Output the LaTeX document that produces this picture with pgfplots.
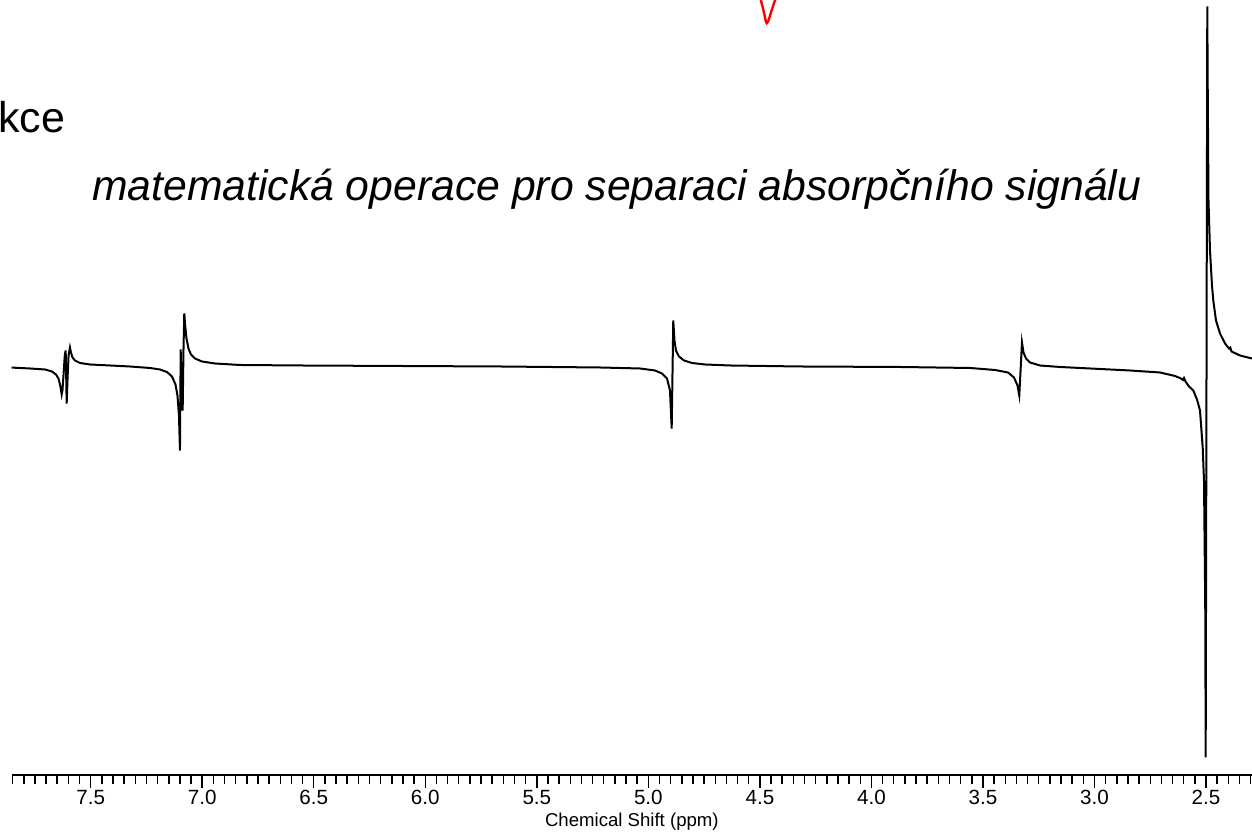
\documentclass[border=0pt]{standalone}
\usepackage{fontspec}
\setmainfont{Liberation Sans}
\usepackage{pgfplots}
\pgfplotsset{compat=1.18}
\begin{document}
\begin{tikzpicture}
\useasboundingbox (0,0) rectangle (626pt,419pt);
\node[anchor=base west,inner sep=0pt,font=\fontsize{21.5}{24}\selectfont] at (-1pt,352.5pt) {kce};
\node[anchor=base west,inner sep=0pt,font=\fontsize{21.35}{25}\selectfont\itshape] at (45.85pt,318.65pt) {matematická operace pro separaci absorpčního signálu};
\begin{axis}[
  at={(5.85pt,31.25pt)}, anchor=south west,
  x=111.535pt, y=0.5pt,
  xmin=2.294, xmax=7.8541, ymin=0, ymax=775,
  x dir=reverse,
  axis x line*=bottom, axis y line=none,
  axis line style={line width=1pt,black},
  xtick={2.5,3.0,3.5,4.0,4.5,5.0,5.5,6.0,6.5,7.0,7.5},
  xticklabels={2.5,3.0,3.5,4.0,4.5,5.0,5.5,6.0,6.5,7.0,7.5},
  minor xtick={2.30,2.35,2.40,2.45,2.55,2.60,2.65,2.70,2.75,2.80,2.85,2.90,2.95,3.05,3.10,3.15,3.20,3.25,3.30,3.35,3.40,3.45,3.55,3.60,3.65,3.70,3.75,3.80,3.85,3.90,3.95,4.05,4.10,4.15,4.20,4.25,4.30,4.35,4.40,4.45,4.55,4.60,4.65,4.70,4.75,4.80,4.85,4.90,4.95,5.05,5.10,5.15,5.20,5.25,5.30,5.35,5.40,5.45,5.55,5.60,5.65,5.70,5.75,5.80,5.85,5.90,5.95,6.05,6.10,6.15,6.20,6.25,6.30,6.35,6.40,6.45,6.55,6.60,6.65,6.70,6.75,6.80,6.85,6.90,6.95,7.05,7.10,7.15,7.20,7.25,7.30,7.35,7.40,7.45,7.55,7.60,7.65,7.70,7.75,7.80,7.85},
  tick align=outside,
  major tick length=6.25pt, minor tick length=4.5pt,
  tick style={line width=0.75pt,black},
  xticklabel style={font=\fontsize{10.3}{11}\selectfont, inner sep=1pt},
  xlabel={Chemical Shift (ppm)},
  xlabel style={font=\fontsize{9.3}{10}\selectfont, inner sep=0pt, at={(axis description cs:0.5,0)}, anchor=base, yshift=-25.75pt},
  clip=true,
]
\addplot[red, line width=1.2pt, smooth] coordinates {
(4.5019,783) (4.4951,775) (4.4839,765) (4.4750,756) (4.4696,752.3) (4.4615,755) (4.4503,763) (4.4324,775) (4.4234,781)
};
\addplot[black, line width=1pt] coordinates {
(7.8618,408) (7.7721,407) (7.7049,406) (7.6735,404) (7.6556,401) (7.6444,397) (7.6363,390)
(7.6300,381) (7.6264,385) (7.6219,400) (7.6161,420) (7.6121,425) (7.6098,400) (7.6076,372)
(7.6040,395) (7.5991,420) (7.5928,428) (7.5883,423) (7.5816,418) (7.5704,415) (7.5480,412.5)
(7.5031,411) (7.4135,410) (7.3238,409) (7.2342,407.5) (7.1893,406) (7.1580,403.5) (7.1355,399)
(7.1198,391) (7.1109,380) (7.1042,360) (7.0997,325) (7.0965,426) (7.0930,395) (7.0876,365)
(7.0840,425) (7.0804,462) (7.0764,450) (7.0705,437) (7.0616,427) (7.0504,421) (7.0324,417)
(7.0011,414) (6.9428,412) (6.8307,410.5) (6.5617,410) (6.1134,409.5) (5.6652,409) (5.2169,408)
(5.0375,407) (4.9703,405) (4.9389,402) (4.9165,397) (4.9031,385) (4.8954,347) (4.8883,455)
(4.8829,435) (4.8762,425) (4.8627,419) (4.8403,415) (4.8044,412.5) (4.7462,411) (4.6341,410)
(4.3203,409) (3.8720,408.5) (3.5582,407.5) (3.4461,405.5) (3.3878,403) (3.3609,398) (3.3452,390)
(3.3372,380) (3.3251,433) (3.3183,423) (3.3071,417) (3.2892,413) (3.2444,410) (3.1547,408.5)
(2.9754,406.5) (2.8409,405) (2.7064,403) (2.6392,399.5) (2.6123,397) (2.6033,395.5) (2.5988,397.5)
(2.5921,394) (2.5764,389) (2.5571,385) (2.5406,376) (2.5271,365) (2.5150,328) (2.5092,295)
(2.5047,195) (2.5034,162) (2.5016,18) (2.4944,769) (2.4921,675) (2.4890,575) (2.4823,525)
(2.4733,490) (2.4675,475) (2.4554,455) (2.4375,442) (2.4150,432) (2.3971,427) (2.3913,428)
(2.3859,424) (2.3478,420) (2.2940,417) (2.2580,416)
};
\end{axis}
\end{tikzpicture}
\end{document}
